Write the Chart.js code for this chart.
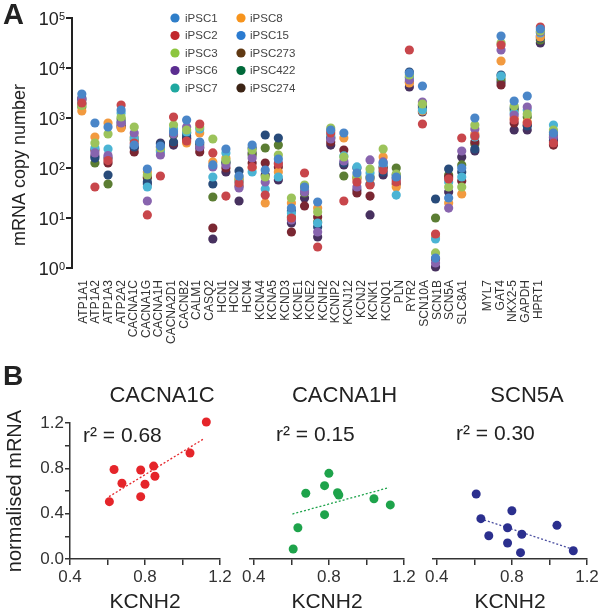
<!DOCTYPE html>
<html><head><meta charset="utf-8">
<script src="https://cdn.jsdelivr.net/npm/chart.js@4.4.1/dist/chart.umd.min.js"></script>
<style>
html,body{margin:0;padding:0;background:#fff;width:600px;height:613px;overflow:hidden;position:relative;}
canvas{position:absolute;}
</style></head><body>
<canvas id="cA" width="600" height="350" style="left:0px;top:0px"></canvas>
<canvas id="cB1" width="240" height="253" style="left:0px;top:360px"></canvas>
<canvas id="cB2" width="200" height="253" style="left:225px;top:360px"></canvas>
<canvas id="cB3" width="200" height="253" style="left:408px;top:360px"></canvas>
<script>
// ---------------- DATA: panel A (mRNA copy number) ----------------
const genes = ['ATP1A1','ATP1A2','ATP1A3','ATP2A2','CACNA1C','CACNA1G','CACNA1H','CACNA2D1','CACNB2','CALM1','CASQ2','HCN1','HCN2','HCN4','KCNA4','KCNA5','KCND3','KCNE1','KCNE2','KCNH2','KCNIP2','KCNJ12','KCNJ2','KCNK1','KCNQ1','PLN','RYR2','SCN10A','SCN1B','SCN5A','SLC8A1','','MYL7','GAT4','NKX2-5','GAPDH','HPRT1'];
const seriesNames = ['iPSC1','iPSC2','iPSC3','iPSC6','iPSC7','iPSC8','iPSC15','iPSC273','iPSC422','iPSC274'];
const iPSC1   = [3020,794,661,1445,288,95.5,275,525,912,331,115,240,69,288,91,151,15.8,41.7,20.9,575,501,79.4,63.1,126,66.1,7943,4365,1.58,25.1,100,1000,null,43650,2188,2754,60260,501];
const iPSC2   = [1995,41.7,141,1820,316,11.5,69.2,1047,347,759,200,27.5,50.1,105,28.8,120,10,79.4,2.63,501,21.9,52.5,45.7,91.2,52.5,22910,759,4.79,60.3,398,437,null,28840,912,794,66070,316];
const iPSC3   = [1778,316,479,1047,661,72.4,251,724,575,661,380,145,66.1,229,66.1,182,25.1,45.7,13.2,631,166,69.2,95.5,240,75.9,7244,1905,2.0,41.7,41.7,724,null,31620,1738,1202,54950,575];
const iPSC6   = [2399,200,178,794,501,21.9,182,479,661,263,105,115,39.8,158,52.5,126,9.12,33.1,5.25,380,138,41.7,145,132,57.5,5754,2089,1.26,15.8,219,603,null,22910,1148,1660,52480,417];
const iPSC7   = [1995,251,240,1259,398,41.7,209,603,525,603,66.1,200,52.5,83.2,38.0,66.1,12.6,34.7,7.94,457,174,105,79.4,115,28.8,6310,1445,3.80,52.5,66.1,417,null,6918,1259,1445,50120,724];
const iPSC8   = [1380,417,794,631,417,83.2,219,575,316,501,132,158,60.3,100,20.0,83.2,20.0,39.8,15.8,550,398,60.3,60.3,166,41.7,5012,1380,4.17,20.0,30.2,479,null,13800,1000,832,41690,525];
const iPSC15  = [2512,158,72.4,832,263,52.5,302,331,437,316,47.9,132,87.1,251,457,398,13.8,36.3,6.61,398,126,100,47.9,83.2,72.4,8318,1738,24.0,95.5,83.2,240,null,7244,1585,692,39810,398];
const iPSC273 = [1905,229,126,661,209,66.1,263,316,380,209,6.31,100,43.7,126,126,105,5.25,17.4,10.5,331,229,31.6,27.5,105,47.9,5248,1585,1.51,66.1,55.0,331,null,4571,794,724,43650,288];
const iPSC422 = [1660,126,47.9,955,363,63.1,229,457,501,288,26.3,126,57.5,182,251,288,10.5,31.6,8.32,417,69.2,63.1,66.1,100,100,6607,1820,10.0,72.4,115,302,null,6026,1445,1047,36310,457];
const iPSC274 = [2291,174,158,724,251,47.9,316,288,398,251,3.80,83.2,21.9,200,72.4,57.5,7.94,25.1,4.17,288,115,36.3,11.5,72.4,63.1,4169,1318,1.05,33.1,166,219,null,5248,575,575,31620,347];
const yTickValues = [1,10,100,1000,10000,100000];
const yTickExponents = ['0','1','2','3','4','5'];

// ---------------- DATA: panel B (normalised mRNA vs KCNH2) ----------------
const kcnh2   = [0.61,0.635,0.677,0.777,0.777,0.80,0.846,0.853,1.04,1.127];
const cacna1c = [0.506,0.79,0.668,0.785,0.55,0.66,0.82,0.73,0.935,1.209];
const cacna1h = [0.088,0.276,0.58,0.647,0.391,0.756,0.585,0.565,0.532,0.477];
const scn5a   = [0.574,0.356,0.205,0.276,0.141,0.426,0.056,0.218,0.297,0.073];
const fitX_cacna1c = [0.608,1.115], fitY_cacna1c = [0.55,1.062];
const fitX_cacna1h = [0.606,1.12],  fitY_cacna1h = [0.397,0.63];
const fitX_scn5a   = [0.632,1.124], fitY_scn5a   = [0.356,0.086];
const r2Labels = ['r\u00B2 = 0.68','r\u00B2 = 0.15','r\u00B2 = 0.30'];
const bXTicks = [0.4,0.6,0.8,1.0,1.2];
const bYTicks = [0,0.2,0.4,0.6,0.8,1.0,1.2];

// ---------------- STYLE ----------------
const FONT = "'Liberation Sans', Arial, Helvetica, sans-serif";
Chart.defaults.font.family = FONT;
Chart.defaults.color = '#333';
const seriesValues = [iPSC1,iPSC2,iPSC3,iPSC6,iPSC7,iPSC8,iPSC15,iPSC273,iPSC422,iPSC274];
const dotColors = ['#4a86c8','#c8464b','#9cc35b','#8864ae','#4bb4d4','#f29a3f','#284b7a','#7a2732','#5b7d33','#47315f'];
const legendColors = ['#2f7ec9','#c1272d','#8dc63f','#5b2d90','#1fa8a0','#f7941d','#2b7bd0','#603913','#00693a','#3c2415'];

const texts = {
  cA: [
    {text:'A', x:3, y:24, font:'bold 29px '+FONT},
    {text:'mRNA copy number', x:20, y:165, font:'18px '+FONT, align:'center', baseline:'middle', rotate:-Math.PI/2}
  ],
  cB1: [
    {text:'B', x:3, y:25, font:'bold 28px '+FONT},
    {text:'CACNA1C', x:162, y:42, font:'22px '+FONT, align:'center'},
    {text:r2Labels[0], x:83, y:82, font:'21px '+FONT}
  ],
  cB2: [
    {text:'CACNA1H', x:119.5, y:42, font:'22px '+FONT, align:'center'},
    {text:r2Labels[1], x:51, y:81, font:'21px '+FONT}
  ],
  cB3: [
    {text:'SCN5A', x:119, y:42, font:'22px '+FONT, align:'center'},
    {text:r2Labels[2], x:48, y:80, font:'21px '+FONT}
  ]
};

const textPlugin = {
  id:'textItems',
  afterDraw(chart){
    const ctx = chart.ctx;
    (texts[chart.canvas.id]||[]).forEach(t=>{
      ctx.save();
      ctx.font = t.font; ctx.fillStyle = t.color || '#222';
      ctx.textAlign = t.align || 'left'; ctx.textBaseline = t.baseline || 'alphabetic';
      ctx.translate(t.x, t.y); if (t.rotate) ctx.rotate(t.rotate);
      ctx.fillText(t.text, 0, 0);
      ctx.restore();
    });
  }
};

const panelAPlugin = {
  id:'panelA',
  afterDraw(chart){
    const ctx = chart.ctx, ys = chart.scales.y;
    ctx.save();
    ctx.fillStyle = '#222';
    ctx.textAlign = 'right'; ctx.textBaseline = 'alphabetic';
    yTickValues.forEach((v,i)=>{
      const py = ys.getPixelForValue(v);
      ctx.font = '11px '+FONT;
      const sw = ctx.measureText(yTickExponents[i]).width;
      ctx.fillText(yTickExponents[i], 65, py+2);
      ctx.font = '18px '+FONT;
      ctx.fillText('10', 65-sw, py+7);
    });
    // legend, two columns of five
    const colDot = [175,241], colText = [185,250];
    seriesNames.forEach((name,i)=>{
      const c = Math.floor(i/5), r = i%5;
      const y = 18 + r*17.5;
      ctx.beginPath(); ctx.arc(colDot[c], y, 4.6, 0, Math.PI*2);
      ctx.fillStyle = legendColors[i]; ctx.fill();
      ctx.fillStyle = '#444'; ctx.font = '11.5px '+FONT;
      ctx.textAlign = 'left'; ctx.textBaseline = 'middle';
      ctx.fillText(name, colText[c], y+0.5);
    });
    ctx.restore();
  }
};

// ---------------- PANEL A ----------------
new Chart(document.getElementById('cA'), {
  type:'scatter',
  data:{
    datasets: seriesNames.map((name,i)=>({
      label:name,
      data: seriesValues[i].map((v,j)=> v==null ? null : {x:j, y:v}).filter(p=>p),
      backgroundColor: dotColors[i], borderColor: dotColors[i], borderWidth:0,
      pointRadius:4.6, pointHoverRadius:4.6, clip:false
    }))
  },
  options:{
    responsive:false, animation:false, devicePixelRatio:1,
    layout:{padding:{top:18, right:40, left:0, bottom:0}},
    plugins:{legend:{display:false}, tooltip:{enabled:false}},
    scales:{
      x:{type:'linear', display:false, min:-0.75, max:36.5},
      xl:{type:'linear', position:'bottom', min:-0.894, max:37.71,
        afterBuildTicks: s=>{ s.ticks = genes.map((g,i)=>({value:i})); },
        afterFit: s=>{ s.height = 82; },
        ticks:{autoSkip:false, minRotation:90, maxRotation:90, padding:12, color:'#333', font:{size:12},
          callback: v => genes[v] || ''},
        grid:{display:false, drawTicks:false}, border:{display:false}},
      y:{type:'logarithmic', min:1, max:100000,
        afterBuildTicks: s=>{ s.ticks = yTickValues.map(v=>({value:v, major:true})); },
        afterFit: s=>{ s.width = 72; },
        ticks:{callback:()=>'', padding:0},
        grid:{drawOnChartArea:false, drawTicks:true, tickLength:6, color:'#222', lineWidth:2},
        border:{display:true, color:'#222', width:2}}
    }
  },
  plugins:[panelAPlugin, textPlugin]
});

// ---------------- PANEL B ----------------
function tickLabel(v){ return (Math.round(v*10) % 4 === 0) ? v.toFixed(1) : ''; }
function makeB(id, yVals, color, lineColor, fx, fy, cfg){
  new Chart(document.getElementById(id), {
    type:'scatter',
    data:{datasets:[
      {data: kcnh2.map((x,i)=>({x:x, y:yVals[i]})), backgroundColor:color, borderWidth:0,
        pointRadius:4.5, pointHoverRadius:4.5, clip:false, order:0},
      {type:'line', data: fx.map((x,i)=>({x:x, y:fy[i]})), borderColor:lineColor, borderWidth:1.3,
        borderDash:[2,2], pointRadius:0, fill:false, clip:false, order:1}
    ]},
    options:{
      responsive:false, animation:false, devicePixelRatio:1,
      layout:{padding:{top:63, right:cfg.padRight, left:cfg.padLeft, bottom:0}},
      plugins:{legend:{display:false}, tooltip:{enabled:false}},
      scales:{
        x:{type:'linear', min:cfg.xMin, max:1.2,
          afterBuildTicks: s=>{ s.ticks = bXTicks.map(v=>({value:v})); },
          afterFit: s=>{ s.height = 54; },
          ticks:{autoSkip:false, maxRotation:0, padding:2, color:'#333', font:{size:17}, callback: v=>tickLabel(v)},
          grid:{drawOnChartArea:false, drawTicks:true, tickLength:6, color:'#333', lineWidth:1.5},
          border:{display:true, color:'#333', width:1.5},
          title:{display:true, text:'KCNH2', color:'#222', font:{size:21, lineHeight:1}, padding:{top:0,bottom:0}}},
        y:{type:'linear', min:0, max:1.2, display:cfg.showY,
          afterBuildTicks: s=>{ s.ticks = bYTicks.map(v=>({value:v})); },
          afterFit: s=>{ s.width = cfg.showY ? 70 : 0; },
          ticks:{autoSkip:false, padding:1, color:'#333', font:{size:17}, callback: v=>tickLabel(v)},
          grid:{drawOnChartArea:false, drawTicks:true, tickLength:5, color:'#333', lineWidth:1.5},
          border:{display:true, color:'#333', width:1.5},
          title:{display:true, text:'normalised mRNA', color:'#222', font:{size:20}, padding:{top:3,bottom:0}}}
      }
    },
    plugins:[textPlugin]
  });
}
makeB('cB1', cacna1c, '#e5252a', '#e5252a', fitX_cacna1c, fitY_cacna1c, {showY:true, xMin:0.4, padLeft:0, padRight:20});
makeB('cB2', cacna1h, '#1ea34b', '#1ea34b', fitX_cacna1h, fitY_cacna1h, {showY:false, xMin:0.38, padLeft:25, padRight:21});
makeB('cB3', scn5a,   '#2b2f8e', '#4a4ea0', fitX_scn5a,   fitY_scn5a,   {showY:false, xMin:0.38, padLeft:25, padRight:21});
</script></body></html>
